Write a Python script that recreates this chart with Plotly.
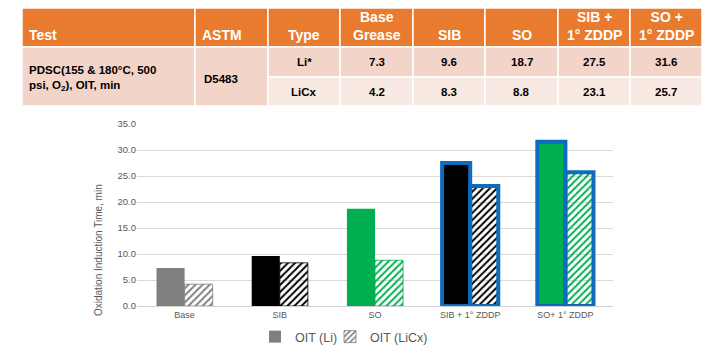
import plotly.graph_objects as go

# ---------------- data ----------------
table_headers = ["Test", "ASTM", "Type", "Base<br>Grease", "SIB", "SO", "SIB +<br>1° ZDDP", "SO +<br>1° ZDDP"]
test_name = "PDSC(155 & 180°C, 500<br>psi, O<sub>2</sub>), OIT, min"
astm_method = "D5483"
grease_types = ["Li*", "LiCx"]

categories = ["Base", "SIB", "SO", "SIB + 1° ZDDP", "SO+ 1° ZDDP"]
oit_li = [7.3, 9.6, 18.7, 27.5, 31.6]
oit_licx = [4.2, 8.3, 8.8, 23.1, 25.7]
series_names = ["OIT (Li)", "OIT (LiCx)"]
y_title = "Oxidation Induction Time, min"

# ---------------- styles ----------------
W, H = 720, 353
FONT = "Liberation Sans, Arial, sans-serif"
GREY_TXT = "#595959"
bar_colors = ["#7F7F7F", "#000000", "#00B050", "#000000", "#00B050"]
BLUE = "#0E6BBE"
li_line_colors = ["#7F7F7F", "#000000", "#00B050", BLUE, BLUE]
li_line_widths = [0, 0, 0, 4, 4]
licx_line_colors = ["#7F7F7F", "#000000", "#00B050", BLUE, BLUE]
licx_line_widths = [0.8, 0.8, 0.8, 4, 4]

ORANGE = "#E87B2E"
ROW1 = "#F3D4C8"
ROW2 = "#F9E9E3"

col_edges = [22, 195, 268, 340, 413, 485, 558, 630, 702]
header_top, header_bot = 8, 47
row1_bot, row2_bot = 77, 106


def px(x):
    return x / W


def py(y):
    return 1 - y / H


fig = go.Figure()

fig.add_trace(go.Bar(
    x=categories, y=oit_li, name=series_names[0], legend="legend",
    marker=dict(color=bar_colors, line=dict(color=li_line_colors, width=li_line_widths)),
))
fig.add_trace(go.Bar(
    x=categories, y=oit_licx, name=series_names[1], legend="legend2",
    marker=dict(color=bar_colors,
                line=dict(color=licx_line_colors, width=licx_line_widths),
                pattern=dict(shape="/", fgcolor=bar_colors, bgcolor="white",
                             size=5, solidity=0.4, fillmode="replace")),
))

shapes = []
annotations = []

# header cells
for i in range(len(table_headers)):
    shapes.append(dict(type="rect", xref="paper", yref="paper",
                       x0=px(col_edges[i]), x1=px(col_edges[i + 1]),
                       y0=py(header_bot), y1=py(header_top),
                       fillcolor=ORANGE, line=dict(color="white", width=1.5), layer="below"))
    left = i < 2
    annotations.append(dict(
        xref="paper", yref="paper",
        x=px(col_edges[i] + 5) if left else px((col_edges[i] + col_edges[i + 1]) / 2),
        xanchor="left" if left else "center",
        y=py(45), yanchor="bottom", showarrow=False,
        text="<b>" + table_headers[i] + "</b>", align="center",
        font=dict(family=FONT, size=14, color="white")))

# merged cells (Test, ASTM)
for i in range(2):
    shapes.append(dict(type="rect", xref="paper", yref="paper",
                       x0=px(col_edges[i]), x1=px(col_edges[i + 1]),
                       y0=py(row2_bot), y1=py(header_bot),
                       fillcolor=ROW1, line=dict(color="white", width=1.5), layer="below"))
annotations.append(dict(xref="paper", yref="paper", x=px(col_edges[0] + 5), xanchor="left",
                        y=py((header_bot + row2_bot) / 2 + 2), yanchor="middle", showarrow=False,
                        text="<b>" + test_name + "</b>", align="left",
                        font=dict(family=FONT, size=11.5, color="black")))
annotations.append(dict(xref="paper", yref="paper", x=px(col_edges[1] + 7), xanchor="left",
                        y=py((header_bot + row2_bot) / 2 + 2), yanchor="middle", showarrow=False,
                        text="<b>" + astm_method + "</b>", align="left",
                        font=dict(family=FONT, size=11.5, color="black")))

# data rows
rows = [(grease_types[0], oit_li, header_bot, row1_bot, ROW1),
        (grease_types[1], oit_licx, row1_bot, row2_bot, ROW2)]
for label, vals, top, bot, col in rows:
    cells = [label] + [f"{v:.1f}" for v in vals]
    for j, txt in enumerate(cells):
        ci = j + 2
        shapes.append(dict(type="rect", xref="paper", yref="paper",
                           x0=px(col_edges[ci]), x1=px(col_edges[ci + 1]),
                           y0=py(bot), y1=py(top),
                           fillcolor=col, line=dict(color="white", width=1.5), layer="below"))
        annotations.append(dict(xref="paper", yref="paper",
                                x=px((col_edges[ci] + col_edges[ci + 1]) / 2), xanchor="center",
                                y=py((top + bot) / 2), yanchor="middle", showarrow=False,
                                text="<b>" + txt + "</b>",
                                font=dict(family=FONT, size=11.5, color="black")))

# y-axis title
annotations.append(dict(xref="paper", yref="paper", x=px(99), y=py(250),
                        xanchor="center", yanchor="middle", textangle=-90, showarrow=False,
                        text=y_title, font=dict(family=FONT, size=10, color=GREY_TXT)))

fig.update_layout(
    width=W, height=H,
    margin=dict(l=0, r=0, t=0, b=0),
    paper_bgcolor="white", plot_bgcolor="white",
    barmode="group", bargap=0.41, bargroupgap=0,
    font=dict(family=FONT, color=GREY_TXT),
    shapes=shapes, annotations=annotations,
    xaxis=dict(domain=[px(137), px(613)], automargin=False, showgrid=False,
               showline=True, linecolor="#D0D0D0", linewidth=1, ticks="",
               tickfont=dict(family=FONT, size=9, color=GREY_TXT)),
    yaxis=dict(domain=[py(306), py(124)], automargin=False, range=[0, 35], dtick=5,
               tickformat=".1f", showgrid=True, gridcolor="#D9D9D9", gridwidth=1,
               zeroline=False, showline=False, ticks="",
               tickfont=dict(family=FONT, size=9.5, color=GREY_TXT)),
    legend=dict(orientation="h", x=px(255), xanchor="left", y=py(337), yanchor="middle",
                font=dict(family=FONT, size=12.5, color=GREY_TXT), bgcolor="rgba(0,0,0,0)"),
    legend2=dict(orientation="h", x=px(330), xanchor="left", y=py(337), yanchor="middle",
                 font=dict(family=FONT, size=12.5, color=GREY_TXT), bgcolor="rgba(0,0,0,0)"),
    showlegend=True,
)

fig.write_html("out.html")
